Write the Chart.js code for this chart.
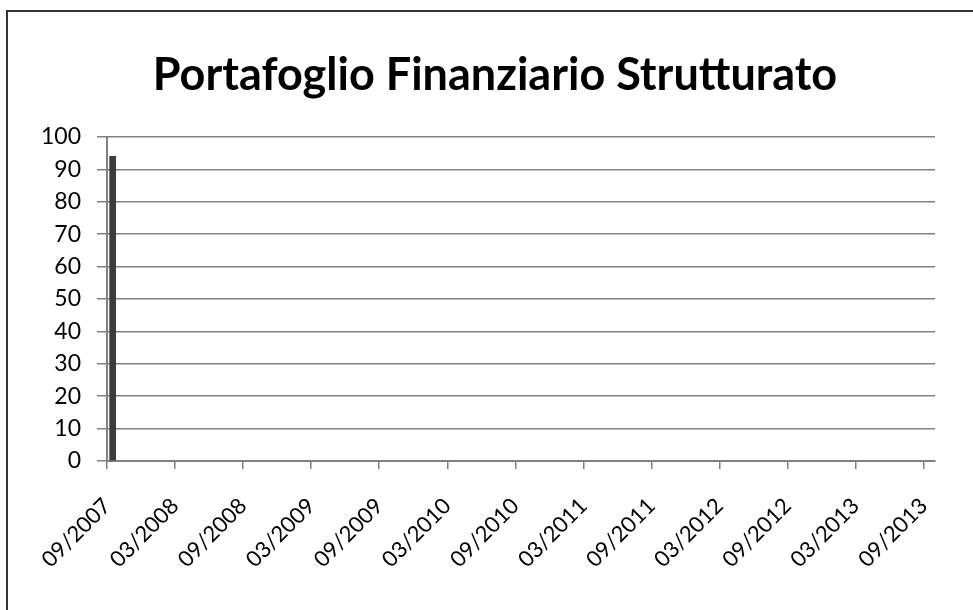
<!DOCTYPE html>
<html>
<head>
<meta charset="utf-8">
<script src="https://cdn.jsdelivr.net/npm/chart.js@4/dist/chart.umd.min.js"></script>
<style>
  html, body { margin: 0; padding: 0; background: #fff; overflow: hidden; }
  #wrap { position: relative; width: 973px; height: 610px; }
  #frame { position: absolute; left: 6px; top: 10px; width: 2000px; height: 2000px;
           border-top: 2px solid #333; border-left: 2px solid #333; pointer-events: none; }
</style>
</head>
<body>
<div id="wrap">
  <canvas id="myChart" width="973" height="610"></canvas>
  <div id="frame"></div>
</div>
<script>
const chartTitle = "Portafoglio Finanziario Strutturato";
const tickLabels = [
  "09/2007", "03/2008", "09/2008", "03/2009", "09/2009", "03/2010", "09/2010",
  "03/2011", "09/2011", "03/2012", "09/2012", "03/2013", "09/2013",
];
const categories = ["09/2007"];
const values = [94];

// months counted from "MM/YYYY"
function monthNo(s) {
  const p = s.split("/");
  return parseInt(p[1], 10) * 12 + parseInt(p[0], 10) - 1;
}
const start = monthNo(tickLabels[0]);
const axisMax = monthNo(tickLabels[tickLabels.length - 1]) - start + 1;

const font = "Lato, 'Open Sans', sans-serif";

chart = new Chart(document.getElementById("myChart").getContext("2d"), {
  type: "bar",
  data: {
    datasets: [
      {
        data: categories.map((c, i) => ({ x: monthNo(c) - start + 0.5, y: values[i] })),
        backgroundColor: "#3c3c3c",
        barThickness: 6,
      },
    ],
  },
  options: {
    responsive: false,
    animation: false,
    layout: { padding: { left: 17, right: 0, top: 0, bottom: 0 } },
    plugins: {
      legend: { display: false },
      tooltip: { enabled: false },
      title: {
        display: true,
        text: chartTitle,
        color: "#000",
        font: { family: font, size: 45, weight: "bold" },
        padding: { top: 48, bottom: 35 },
      },
    },
    scales: {
      x: {
        type: "linear",
        offset: false,
        min: 0,
        max: axisMax,
        afterBuildTicks: (scale) => {
          scale.ticks = tickLabels.map((l) => ({ value: monthNo(l) - start }));
        },
        afterFit: (scale) => { scale.height = 149; },
        grid: { offset: false, drawOnChartArea: false, tickLength: 8, color: "#808080", lineWidth: 1.5 },
        border: { color: "#808080", width: 2 },
        ticks: {
          color: "#000",
          font: { family: font, size: 22 },
          minRotation: 45,
          maxRotation: 45,
          padding: 24,
          autoSkip: false,
          callback: (v) => {
            const i = tickLabels.findIndex((l) => monthNo(l) - start === v);
            return i >= 0 ? tickLabels[i] : "";
          },
        },
      },
      y: {
        min: 0,
        max: 100,
        afterFit: (scale) => { scale.width = 90; },
        grid: { tickLength: 10, color: "#808080", lineWidth: 1.5 },
        border: { color: "#808080", width: 2 },
        ticks: {
          stepSize: 10,
          color: "#000",
          padding: 16,
          font: { family: font, size: 23 },
        },
      },
      yRight: {
        position: "right",
        min: 0,
        max: 100,
        afterFit: (scale) => { scale.width = 38; },
        grid: { display: false },
        border: { display: false },
        ticks: { display: false },
      },
    },
  },
});
</script>
</body>
</html>
